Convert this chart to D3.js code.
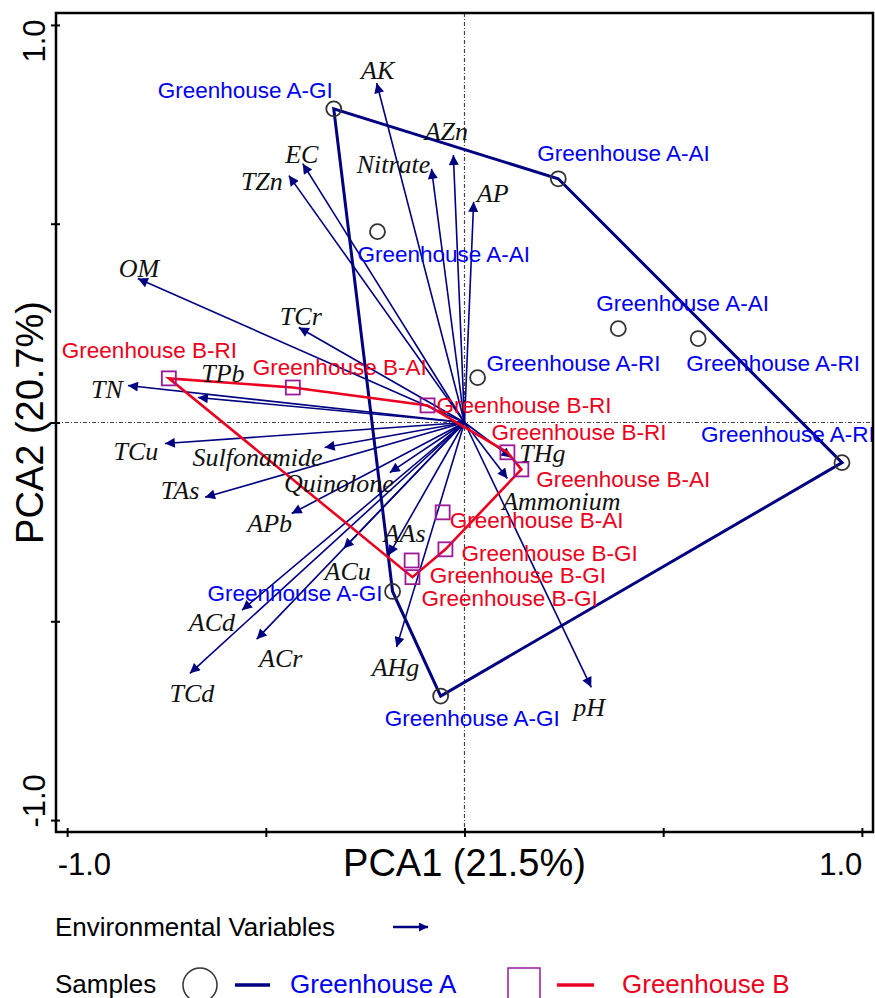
<!DOCTYPE html>
<html>
<head>
<meta charset="utf-8">
<script src="https://cdn.jsdelivr.net/npm/d3@7/dist/d3.min.js"></script>
<style>
body { margin: 0; background: #fff; }
</style>
</head>
<body>
<div id="vis1"></div>
<script>
// environmental variables: PCA1 / PCA2 loadings (arrow tips)
var varNames = ["AK","AZn","Nitrate","AP","EC","TZn","OM","TCr","TN","TPb","TCu","Sulfonamide",
  "TAs","Quinolone","APb","AAs","ACu","ACd","ACr","TCd","AHg","pH","THg","Ammonium"];
var varPC1 = [-0.221,-0.028,-0.083,0.023,-0.407,-0.442,-0.822,-0.417,-0.847,-0.671,-0.754,-0.352,
  -0.653,-0.188,-0.435,-0.191,-0.304,-0.560,-0.523,-0.691,-0.171,0.319,0.118,0.108];
var varPC2 = [0.854,0.673,0.638,0.555,0.651,0.621,0.362,0.239,0.093,0.063,-0.053,-0.063,
  -0.188,-0.126,-0.229,-0.334,-0.317,-0.472,-0.545,-0.631,-0.565,-0.666,-0.088,-0.141];

// samples, greenhouse A
var namesA = ["Greenhouse A-GI","Greenhouse A-AI","Greenhouse A-AI","Greenhouse A-AI","Greenhouse A-RI",
  "Greenhouse A-RI","Greenhouse A-RI","Greenhouse A-GI","Greenhouse A-GI"];
var pc1A = [-0.329,0.236,-0.219,0.387,0.588,0.033,0.950,-0.181,-0.060];
var pc2A = [0.789,0.613,0.480,0.236,0.211,0.113,-0.101,-0.425,-0.688];

// samples, greenhouse B
var namesB = ["Greenhouse B-RI","Greenhouse B-AI","Greenhouse B-RI","Greenhouse B-RI","Greenhouse B-AI",
  "Greenhouse B-AI","Greenhouse B-GI","Greenhouse B-GI","Greenhouse B-GI"];
var pc1B = [-0.744,-0.432,-0.093,0.108,0.143,-0.055,-0.048,-0.133,-0.131];
var pc2B = [0.111,0.088,0.043,-0.075,-0.118,-0.226,-0.319,-0.347,-0.389];

var axisTicks = [-1, -0.5, 0, 0.5, 1];
var axisTitles = ["PCA1 (21.5%)", "PCA2 (20.7%)"];

// label placement (pixels from the mark)
var varLabDx = [1,-7,-38,19,-1,-27,1,2,-21,25,-29,-67,-25,-51,-22,16,4,-30,24,2,-1,-2,31,54];
var varLabDy = [-13,-24,-5,-9,-10,5,-11,-12,3,-25,7,9,-7,10,9,-22,22,12,19,20,20,20,-5,22];
var labA = [["end",-1,-19],["start",-21,-26],["start",-20,22],["start",-22,-26],["start",-12,25],
  ["start",9,-14],["start",-141,-29],["end",-10,2],["start",-56,22]];
var labB = [["start",-107,-28],["start",-40,-20],["start",9,0],["start",-16,-20],["start",15,10],
  ["start",7,8],["start",16,4],["start",18,15],["start",9,21]];

function drawChart(){

var navy = "#000080", blue = "#0000f0", red = "#ec0020", purple = "#9a1a9a";
var sans = "'Liberation Sans', Arial, sans-serif";
var serif = "'Liberation Serif', 'Times New Roman', serif";

var W = 875, H = 998;
var pLeft = 56, pRight = 873, pTop = 13, pBottom = 832;

var svg = d3.select("#vis1")
  .append("svg")
    .attr("width", W)
    .attr("height", H);

var x = d3.scaleLinear().domain([-1.028, 1.028]).range([pLeft, pRight]);
var y = d3.scaleLinear().domain([-1.03, 1.03]).range([pBottom, pTop]);

var defs = svg.append("defs");
defs.append("marker")
  .attr("id", "arr")
  .attr("viewBox", "0 0 10 10")
  .attr("refX", 10).attr("refY", 5)
  .attr("markerWidth", 15).attr("markerHeight", 10)
  .attr("markerUnits", "userSpaceOnUse")
  .attr("orient", "auto")
  .append("path").attr("d", "M0,0L10,5L0,10z").attr("fill", navy);

defs.append("marker")
  .attr("id", "arrSmall")
  .attr("viewBox", "0 0 10 10")
  .attr("refX", 10).attr("refY", 5)
  .attr("markerWidth", 13).attr("markerHeight", 9)
  .attr("markerUnits", "userSpaceOnUse")
  .attr("orient", "auto")
  .append("path").attr("d", "M0,0L10,5L0,10z").attr("fill", navy);

// zero lines
svg.append("line")
  .attr("x1", x(0)).attr("x2", x(0)).attr("y1", pTop).attr("y2", pBottom)
  .attr("stroke", "#444").attr("stroke-width", 1.2).attr("stroke-dasharray", "4,2,1,2");
svg.append("line")
  .attr("x1", pLeft).attr("x2", pRight).attr("y1", y(0)).attr("y2", y(0))
  .attr("stroke", "#444").attr("stroke-width", 1.2).attr("stroke-dasharray", "4,2,1,2");

// arrows
var vars = varNames.map(function(d, i){ return {name: d, pc1: varPC1[i], pc2: varPC2[i], i: i}; });

svg.selectAll("line.var")
  .data(vars)
  .enter()
  .append("line")
    .attr("class", "var")
    .attr("x1", x(0)).attr("y1", y(0))
    .attr("x2", function(d){ return x(d.pc1); })
    .attr("y2", function(d){ return y(d.pc2); })
    .attr("stroke", navy)
    .attr("stroke-width", 1.6)
    .attr("marker-end", "url(#arr)");

// convex hulls
var ptsA = pc1A.map(function(d, i){ return [x(d), y(pc2A[i])]; });
var ptsB = pc1B.map(function(d, i){ return [x(d), y(pc2B[i])]; });

svg.append("path")
  .attr("d", "M" + d3.polygonHull(ptsA).join("L") + "Z")
  .attr("fill", "none").attr("stroke", navy).attr("stroke-width", 3);
svg.append("path")
  .attr("d", "M" + d3.polygonHull(ptsB).join("L") + "Z")
  .attr("fill", "none").attr("stroke", red).attr("stroke-width", 2.6);

// variable labels
svg.selectAll("text.var")
  .data(vars)
  .enter()
  .append("text")
    .attr("class", "var")
    .attr("x", function(d){ return x(d.pc1) + varLabDx[d.i]; })
    .attr("y", function(d){ return y(d.pc2) + varLabDy[d.i]; })
    .attr("dy", "0.35em")
    .attr("text-anchor", "middle")
    .style("font-family", serif)
    .style("font-style", "italic")
    .style("font-size", "26px")
    .style("fill", "#111")
    .text(function(d){ return d.name; });

// sample markers
svg.selectAll("circle.sa")
  .data(ptsA)
  .enter()
  .append("circle")
    .attr("class", "sa")
    .attr("cx", function(d){ return d[0]; })
    .attr("cy", function(d){ return d[1]; })
    .attr("r", 7.5)
    .attr("fill", "none")
    .attr("stroke", "#333")
    .attr("stroke-width", 1.8);

svg.selectAll("rect.sb")
  .data(ptsB)
  .enter()
  .append("rect")
    .attr("class", "sb")
    .attr("x", function(d){ return d[0] - 7; })
    .attr("y", function(d){ return d[1] - 7; })
    .attr("width", 14).attr("height", 14)
    .attr("fill", "none")
    .attr("stroke", purple)
    .attr("stroke-width", 1.8);

// sample labels
svg.selectAll("text.sa")
  .data(ptsA)
  .enter()
  .append("text")
    .attr("class", "sa")
    .attr("x", function(d, i){ return d[0] + labA[i][1]; })
    .attr("y", function(d, i){ return d[1] + labA[i][2]; })
    .attr("dy", "0.35em")
    .attr("text-anchor", function(d, i){ return labA[i][0]; })
    .style("font-family", sans)
    .style("font-size", "22.5px")
    .style("fill", blue)
    .text(function(d, i){ return namesA[i]; });

svg.selectAll("text.sb")
  .data(ptsB)
  .enter()
  .append("text")
    .attr("class", "sb")
    .attr("x", function(d, i){ return d[0] + labB[i][1]; })
    .attr("y", function(d, i){ return d[1] + labB[i][2]; })
    .attr("dy", "0.35em")
    .attr("text-anchor", function(d, i){ return labB[i][0]; })
    .style("font-family", sans)
    .style("font-size", "22.5px")
    .style("fill", red)
    .text(function(d, i){ return namesB[i]; });

// axes
var fmt = function(d){ return Math.abs(d) === 1 ? d.toFixed(1) : ""; };

var gx = svg.append("g")
  .attr("transform", "translate(0," + pBottom + ")")
  .call(d3.axisBottom(x).tickValues(axisTicks).tickFormat(fmt).tickSizeOuter(0));
gx.select(".domain").remove();
gx.selectAll(".tick line").attr("y1", -4).attr("y2", 5).attr("stroke-width", 2);
gx.selectAll(".tick text")
  .attr("y", 43).attr("dy", 0)
  .attr("x", function(d){ return d < 0 ? -10 : 0; })
  .attr("text-anchor", function(d){ return d < 0 ? "start" : "end"; })
  .style("font-family", sans).style("font-size", "31px").style("fill", "#000");

var gy = svg.append("g")
  .attr("transform", "translate(" + pLeft + ",0)")
  .call(d3.axisLeft(y).tickValues(axisTicks).tickFormat(fmt).tickSizeOuter(0));
gy.select(".domain").remove();
gy.selectAll(".tick line").attr("x1", 4).attr("x2", -5).attr("stroke-width", 2);
gy.selectAll(".tick text")
  .attr("transform", "rotate(-90)")
  .attr("x", function(d){ return d > 0 ? 6 : -7; })
  .attr("y", -11).attr("dy", 0)
  .attr("text-anchor", function(d){ return d > 0 ? "end" : "start"; })
  .style("font-family", sans).style("font-size", "31px").style("fill", "#000");

// frame
svg.append("rect")
  .attr("x", pLeft).attr("y", pTop)
  .attr("width", pRight - pLeft).attr("height", pBottom - pTop)
  .attr("fill", "none").attr("stroke", "#000").attr("stroke-width", 2.5);

svg.append("text")
  .attr("x", x(0)).attr("y", 876)
  .attr("text-anchor", "middle")
  .style("font-family", sans).style("font-size", "38px")
  .text(axisTitles[0]);

svg.append("text")
  .attr("transform", "translate(43," + y(0) + ") rotate(-90)")
  .attr("text-anchor", "middle")
  .style("font-family", sans).style("font-size", "38px")
  .text(axisTitles[1]);

// legend
svg.append("text")
  .attr("x", 55).attr("y", 927).attr("dy", "0.35em")
  .style("font-family", sans).style("font-size", "26px")
  .text("Environmental Variables");
svg.append("line")
  .attr("x1", 393).attr("x2", 428).attr("y1", 927).attr("y2", 927)
  .attr("stroke", navy).attr("stroke-width", 2.5)
  .attr("marker-end", "url(#arrSmall)");

var ly = 984;
svg.append("text")
  .attr("x", 55).attr("y", ly).attr("dy", "0.33em")
  .style("font-family", sans).style("font-size", "26px")
  .text("Samples");
svg.append("circle")
  .attr("cx", 200).attr("cy", ly + 1).attr("r", 17)
  .attr("fill", "none").attr("stroke", "#333").attr("stroke-width", 1.5);
svg.append("line")
  .attr("x1", 235).attr("x2", 270).attr("y1", ly + 1).attr("y2", ly + 1)
  .attr("stroke", navy).attr("stroke-width", 3.5);
svg.append("text")
  .attr("x", 290).attr("y", ly).attr("dy", "0.33em")
  .style("font-family", sans).style("font-size", "26px").style("fill", blue)
  .text("Greenhouse A");
svg.append("rect")
  .attr("x", 508).attr("y", 968).attr("width", 32).attr("height", 34)
  .attr("fill", "none").attr("stroke", purple).attr("stroke-width", 1.5);
svg.append("line")
  .attr("x1", 557).attr("x2", 594).attr("y1", ly + 1).attr("y2", ly + 1)
  .attr("stroke", red).attr("stroke-width", 3.5);
svg.append("text")
  .attr("x", 622).attr("y", ly).attr("dy", "0.33em")
  .style("font-family", sans).style("font-size", "26px").style("fill", red)
  .text("Greenhouse B");
}

drawChart();
</script>
</body>
</html>
